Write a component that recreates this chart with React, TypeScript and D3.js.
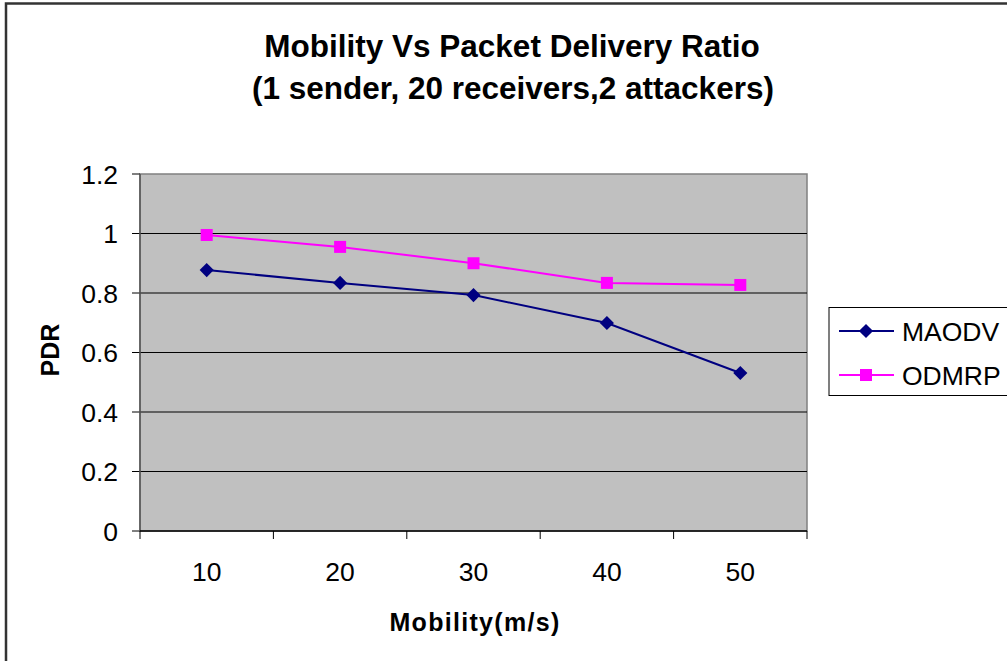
import * as d3 from 'd3'

const categories = ['10', '20', '30', '40', '50']
const maodv = [0.877, 0.834, 0.793, 0.699, 0.531]
const odmrp = [0.995, 0.955, 0.9, 0.834, 0.827]
const yTicks = [0, 0.2, 0.4, 0.6, 0.8, 1, 1.2]

const W = 1007
const H = 661
const font = '"Liberation Sans", Arial, sans-serif'

export default function App() {
  const plot = { left: 140, right: 807, top: 174, bottom: 531 }

  const x = d3.scaleBand().domain(categories).range([plot.left, plot.right]).padding(0)
  const y = d3.scaleLinear().domain([0, 1.2]).range([plot.bottom, plot.top])

  const cx = (c: string) => (x(c) ?? 0) + x.bandwidth() / 2
  const line = d3.line<number>()
    .x((_, i) => cx(categories[i]))
    .y(d => y(d))

  // excel-style diamond: a square turned 45 degrees
  const diamond = d3.symbol().type(d3.symbolSquare).size(100)() ?? ''

  const edges = [...categories.map(c => x(c) ?? 0), plot.right]

  return (
    <div style={{ position: 'fixed', left: 0, top: 0 }}>
      <svg width={W} height={H} style={{ display: 'block', fontFamily: font }}>
        <rect x={0} y={0} width={W} height={H} fill="#fff" />
        {/* outer border */}
        <rect x={6} y={3.5} width={W + 20} height={H + 20} fill="none" stroke="#333" strokeWidth={2.5} />

        <text x={512} y={57} textAnchor="middle" fontSize={31.5} fontWeight="bold">
          Mobility Vs Packet Delivery Ratio
        </text>
        <text x={513} y={99} textAnchor="middle" fontSize={31.5} fontWeight="bold">
          (1 sender, 20 receivers,2 attackers)
        </text>

        {/* plot area */}
        <rect x={plot.left} y={plot.top} width={plot.right - plot.left} height={plot.bottom - plot.top}
          fill="#c0c0c0" stroke="#808080" strokeWidth={1.5} />

        {yTicks.map(t => (
          <g key={t}>
            {t > 0 && t < 1.2 && (
              <line x1={plot.left} x2={plot.right} y1={y(t)} y2={y(t)} stroke="#000" strokeWidth={1} />
            )}
            <line x1={plot.left - 8} x2={plot.left} y1={y(t)} y2={y(t)} stroke="#000" strokeWidth={1} />
            <text x={118} y={y(t)} dy="0.36em" textAnchor="end" fontSize={26.5}>{t}</text>
          </g>
        ))}

        <line x1={plot.left} x2={plot.left} y1={plot.top} y2={plot.bottom} stroke="#555" strokeWidth={1.5} />
        <line x1={plot.left} x2={plot.right} y1={plot.bottom} y2={plot.bottom} stroke="#000" strokeWidth={1.5} />
        {edges.map((e, i) => (
          <line key={i} x1={e} x2={e} y1={plot.bottom} y2={plot.bottom + 8} stroke="#000" strokeWidth={1} />
        ))}
        {categories.map(c => (
          <text key={c} x={cx(c)} y={581} textAnchor="middle" fontSize={26.5}>{c}</text>
        ))}

        <text x={475} y={631} textAnchor="middle" fontSize={25} fontWeight="bold" letterSpacing={1.3}>
          Mobility(m/s)
        </text>
        <text transform="translate(59,350) rotate(-90)" textAnchor="middle" fontSize={25} fontWeight="bold">
          PDR
        </text>

        {/* series */}
        <path d={line(odmrp) ?? ''} fill="none" stroke="#ff00ff" strokeWidth={2} />
        <path d={line(maodv) ?? ''} fill="none" stroke="#000080" strokeWidth={2} />
        {odmrp.map((v, i) => (
          <rect key={'o' + i} x={cx(categories[i]) - 6} y={y(v) - 6} width={12} height={12} fill="#ff00ff" />
        ))}
        {maodv.map((v, i) => (
          <path key={'m' + i} d={diamond} transform={`translate(${cx(categories[i])},${y(v)}) rotate(45)`} fill="#000080" />
        ))}

        {/* legend */}
        <rect x={829} y={307.5} width={200} height={88} fill="#fff" stroke="#000" strokeWidth={1} />
        <line x1={839} x2={894} y1={331} y2={331} stroke="#000080" strokeWidth={2} />
        <path d={diamond} transform="translate(866,331) rotate(45)" fill="#000080" />
        <text x={902} y={331} dy="0.36em" fontSize={26.5}>MAODV</text>
        <line x1={839} x2={894} y1={375} y2={375} stroke="#ff00ff" strokeWidth={2} />
        <rect x={860} y={369} width={12} height={12} fill="#ff00ff" />
        <text x={902} y={375} dy="0.36em" fontSize={26.5}>ODMRP</text>
      </svg>
    </div>
  )
}
